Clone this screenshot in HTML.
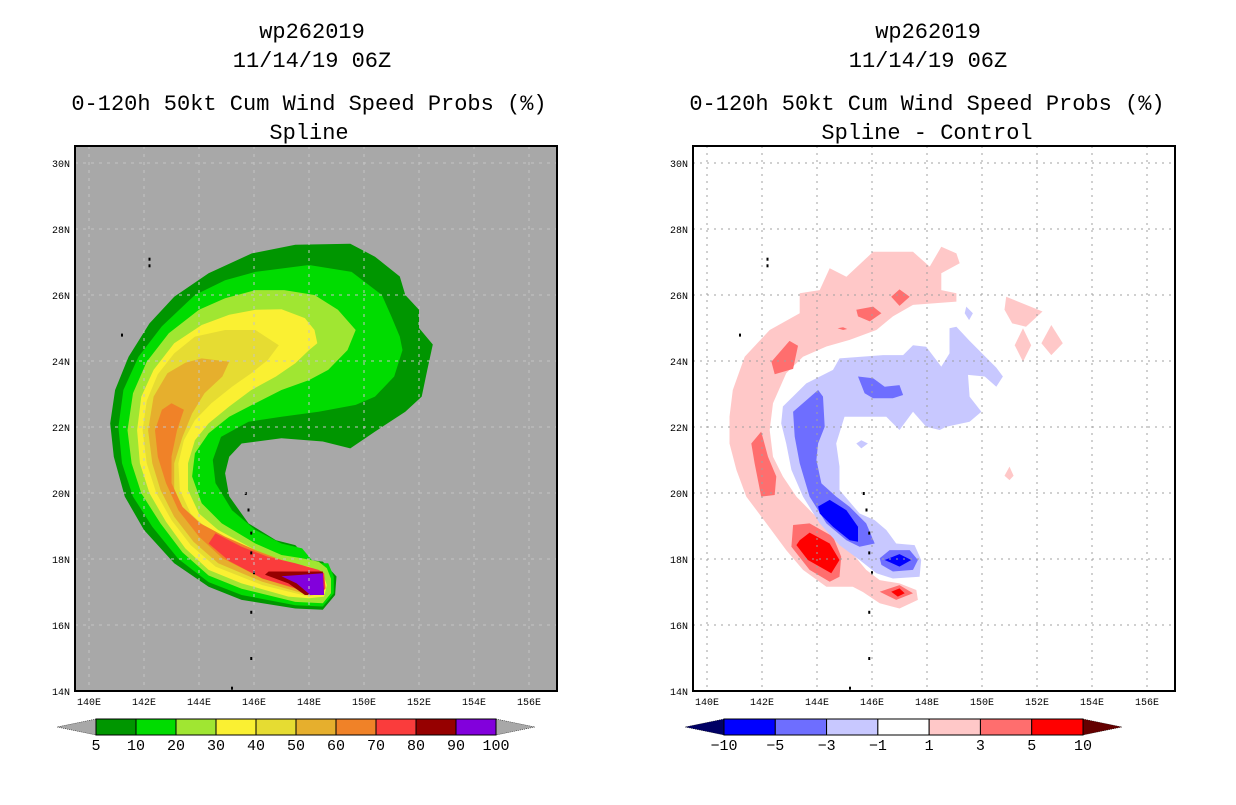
<!DOCTYPE html>
<html><head><meta charset="utf-8">
<style>
html,body{margin:0;padding:0;background:#fff;}
body{width:1236px;height:800px;overflow:hidden;}
svg text{font-family:"Liberation Mono",monospace;}
</style></head>
<body>
<svg id="root" width="1236" height="800" viewBox="0 0 1236 800">
<defs>
<clipPath id="clipL"><rect x="75" y="146" width="482" height="545"/></clipPath>
<clipPath id="clipR"><rect x="693" y="146" width="482" height="545"/></clipPath>
</defs>
<g font-size="22" text-anchor="middle" fill="#000">
<text x="312" y="38">wp262019</text>
<text x="312" y="67">11/14/19 06Z</text>
<text x="309" y="110">0-120h 50kt Cum Wind Speed Probs (%)</text>
<text x="309" y="139">Spline</text>
</g>
<g font-size="22" text-anchor="middle" fill="#000">
<text x="928" y="38">wp262019</text>
<text x="928" y="67">11/14/19 06Z</text>
<text x="927" y="110">0-120h 50kt Cum Wind Speed Probs (%)</text>
<text x="927" y="139">Spline - Control</text>
</g>
<rect x="75" y="146" width="482" height="545" fill="#a8a8a8"/>
<rect x="693" y="146" width="482" height="545" fill="#fff"/>
<g id="fillL" clip-path="url(#clipL)"></g>
<g id="fillR" clip-path="url(#clipR)"></g>
<g id="gridL" clip-path="url(#clipL)"></g>
<g id="gridR" clip-path="url(#clipR)"></g>
<g id="axesL"></g>
<g id="axesR"></g>
<rect x="75" y="146" width="482" height="545" fill="none" stroke="#000" stroke-width="2"/>
<rect x="693" y="146" width="482" height="545" fill="none" stroke="#000" stroke-width="2"/>
<g id="cbL"></g>
<g id="cbR"></g>
</svg>
<script>
const lonTicks = [140,142,144,146,148,150,152,154,156];
const latTicks = [14,16,18,20,22,24,26,28,30];

const p5 = [[145.92,27.26],[147.5,27.52],[149.5,27.55],[150.4,27.16],[151.3,26.56],[151.5,26.0],[152.0,25.55],[152.0,25.0],[152.5,24.5],[152.3,23.73],[152.1,22.92],[151.5,22.46],[150.4,21.86],[149.5,21.35],[148.5,21.56],[147.0,21.66],[145.55,21.5],[145.1,21.1],[144.95,20.6],[145.1,19.9],[145.8,19.08],[146.8,18.57],[147.5,18.42],[148.0,17.97],[148.5,17.92],[149.0,17.47],[148.95,16.91],[148.5,16.46],[147.5,16.5],[145.55,16.76],[144.35,17.16],[143.1,17.87],[142.0,18.88],[141.3,19.89],[140.9,21.1],[140.77,22.11],[140.95,23.12],[141.44,24.13],[142.2,25.14],[143.1,25.95],[144.35,26.66]];
const p10 = [[146.05,26.7],[148.0,26.91],[149.55,26.7],[150.65,26.0],[151.0,25.34],[151.3,24.74],[151.4,24.33],[151.1,23.53],[150.4,22.92],[149.7,22.67],[148.35,22.46],[147.0,22.31],[145.8,22.16],[144.8,21.7],[144.5,21.0],[144.6,20.3],[145.2,19.48],[146.05,18.88],[147.0,18.47],[147.75,18.32],[148.2,17.87],[148.7,17.87],[148.9,17.47],[148.9,16.96],[148.5,16.56],[147.5,16.6],[145.55,16.91],[144.35,17.3],[143.25,18.0],[142.3,18.98],[141.6,19.89],[141.2,20.9],[141.07,22.0],[141.25,23.12],[141.8,24.13],[142.65,25.05],[143.85,26.0],[144.95,26.45]];
const p20 = [[146.05,26.15],[147.1,26.15],[148.2,26.0],[149.05,25.55],[149.7,24.94],[149.4,24.33],[148.7,23.73],[148.0,23.42],[147.0,23.12],[146.05,22.72],[145.1,22.31],[144.35,21.81],[143.85,21.2],[143.75,20.5],[144.1,19.69],[144.83,19.08],[146.05,18.47],[147.0,18.12],[147.75,18.02],[148.35,17.92],[148.65,17.72],[148.8,17.4],[148.8,16.96],[148.5,16.66],[147.5,16.7],[145.55,17.1],[144.35,17.5],[143.4,18.2],[142.6,19.08],[141.9,19.99],[141.55,20.9],[141.4,21.9],[141.6,23.02],[142.1,23.98],[142.9,24.84],[144.0,25.55],[144.95,25.9]];
const p30 = [[146.05,25.55],[147.0,25.57],[147.85,25.3],[148.2,24.94],[148.3,24.54],[148.0,24.33],[147.5,23.93],[146.8,23.53],[145.9,23.12],[145.1,22.62],[144.35,22.11],[143.85,21.6],[143.6,20.9],[143.6,20.09],[144.0,19.38],[144.7,18.88],[146.05,18.27],[147.25,17.87],[148.0,17.77],[148.5,17.57],[148.65,17.21],[148.55,16.86],[148.0,16.81],[147.25,16.86],[145.55,17.26],[144.35,17.67],[143.5,18.32],[142.8,19.13],[142.2,19.99],[141.85,20.9],[141.75,21.9],[141.9,22.92],[142.35,23.73],[143.1,24.54],[144.1,25.09],[145.1,25.4]];
const p40 = [[143.85,24.74],[144.95,24.94],[146.05,24.94],[146.9,24.48],[146.5,24.03],[145.9,23.63],[145.2,23.22],[144.45,22.72],[143.85,22.21],[143.45,21.6],[143.25,20.9],[143.3,20.09],[143.7,19.38],[144.35,18.88],[145.3,18.47],[146.3,18.17],[147.0,17.97],[148.0,17.72],[148.5,17.47],[148.55,17.01],[148.0,16.86],[146.3,17.21],[144.6,17.77],[143.7,18.42],[143.0,19.18],[142.45,19.99],[142.1,20.9],[141.95,21.9],[142.1,22.79],[142.5,23.6],[143.1,24.23]];
const p50 = [[144.1,24.08],[145.1,23.98],[144.85,23.53],[144.2,23.02],[143.75,22.41],[143.4,21.7],[143.1,20.9],[143.1,20.09],[143.5,19.38],[144.2,18.88],[145.2,18.47],[146.3,18.12],[147.25,17.87],[148.0,17.67],[148.5,17.41],[148.5,17.01],[148.0,16.91],[146.3,17.31],[144.7,17.87],[143.8,18.52],[143.1,19.28],[142.6,20.09],[142.3,20.9],[142.15,21.9],[142.35,22.92],[142.85,23.63],[143.5,23.95]];
const p60 = [[143.0,22.72],[143.45,22.52],[143.2,21.9],[143.0,21.1],[143.0,20.3],[143.4,19.58],[144.05,19.08],[144.95,18.68],[146.05,18.27],[147.0,17.97],[147.85,17.67],[148.35,17.36],[148.35,17.06],[147.85,17.01],[146.3,17.41],[144.85,18.02],[144.0,18.68],[143.25,19.48],[142.8,20.3],[142.5,21.1],[142.4,21.9],[142.65,22.52]];
const p70 = [[144.35,18.47],[144.6,18.78],[145.55,18.37],[146.5,18.07],[147.5,17.87],[148.35,17.67],[148.55,17.57],[148.6,17.11],[148.45,16.96],[147.75,17.06],[146.3,17.41],[145.1,17.94]];
const p80 = [[146.4,17.52],[146.53,17.62],[148.5,17.62],[148.55,16.91],[147.85,16.91],[147.25,17.26]];
const p90 = [[147.0,17.48],[148.5,17.57],[148.55,16.91],[148.05,16.91],[147.55,17.26]];

const dPink = [[140.82,22.31],[140.94,23.12],[141.37,24.13],[142.28,24.94],[143.37,25.45],[143.37,26.05],[144.1,26.15],[144.46,26.81],[145.07,26.55],[146.04,27.31],[147.49,27.31],[148.1,26.86],[148.52,27.46],[149.07,27.26],[149.19,26.96],[148.52,26.66],[148.52,26.15],[149.07,26.05],[149.07,25.8],[147.49,25.7],[146.76,25.35],[146.16,24.94],[145.19,24.64],[144.34,24.44],[143.49,24.13],[142.88,23.63],[142.4,22.72],[142.28,21.91],[142.4,21.1],[142.76,20.5],[143.25,19.89],[143.85,19.38],[144.58,18.85],[145.19,18.27],[145.79,17.67],[146.28,17.36],[147.0,17.26],[147.61,17.06],[147.67,16.76],[147.0,16.5],[146.28,16.66],[145.67,17.0],[145.3,17.16],[144.34,17.16],[143.49,17.67],[142.88,18.27],[142.16,19.08],[141.43,19.89],[141.07,20.7],[140.82,21.5]];
const dPink2 = [[150.88,25.95],[152.2,25.5],[151.6,25.04],[151.1,25.14],[150.82,25.55]];
const dPink3 = [[151.49,24.99],[151.79,24.48],[151.49,23.98],[151.19,24.48]];
const dPink4 = [[152.52,25.09],[152.94,24.54],[152.52,24.18],[152.16,24.54]];
const dPink5 = [[151.0,20.8],[151.15,20.52],[151.0,20.39],[150.82,20.52]];
const dRedA = [[143.0,24.61],[143.31,24.46],[143.13,23.76],[142.46,23.6],[142.34,23.98]];
const dRedB = [[146.7,25.95],[147.0,26.17],[147.37,25.95],[147.0,25.67]];
const dRedC = [[145.43,25.55],[146.04,25.65],[146.34,25.45],[145.92,25.2],[145.49,25.35]];
const dRedD = [[144.75,24.99],[144.95,25.02],[145.1,24.97],[144.95,24.94]];
const dRedE = [[141.97,21.86],[142.22,21.1],[142.52,20.5],[142.46,19.94],[141.97,19.89],[141.73,20.9],[141.61,21.5]];
const dRedF = [[143.13,19.03],[143.73,19.08],[144.58,18.68],[144.88,18.07],[144.82,17.46],[144.46,17.31],[143.73,17.67],[143.07,18.37]];
const dRedG = [[146.28,17.01],[147.0,17.21],[147.49,16.96],[146.88,16.76]];
const dRedH = [[143.37,18.57],[143.73,18.8],[144.46,18.47],[144.82,17.97],[144.52,17.57],[143.67,17.97],[143.25,18.42]];
const dRedI = [[146.7,17.01],[147.0,17.11],[147.19,16.96],[146.94,16.86]];
const dBlueL = [[142.76,22.62],[143.61,23.32],[144.58,23.73],[144.82,24.08],[146.4,24.18],[147.13,24.18],[147.49,24.48],[147.97,24.43],[148.52,23.83],[148.82,24.23],[148.82,24.99],[149.07,25.04],[149.55,24.61],[150.16,24.1],[150.52,23.8],[150.76,23.53],[150.52,23.22],[150.1,23.53],[149.49,23.58],[149.55,22.92],[149.98,22.46],[149.55,22.16],[148.7,22.01],[148.46,21.91],[147.97,22.01],[147.49,22.46],[147.0,21.91],[146.52,22.31],[145.0,22.31],[144.7,21.5],[144.82,20.8],[144.82,20.09],[145.55,19.38],[146.1,19.18],[146.52,18.88],[146.88,18.47],[147.55,18.42],[147.79,17.97],[147.73,17.46],[146.76,17.41],[146.16,17.57],[145.55,17.97],[144.82,18.42],[144.1,19.08],[143.49,19.89],[143.07,20.7],[142.88,21.5],[142.7,22.11]];
const dBlueL2 = [[149.43,25.65],[149.67,25.45],[149.53,25.24],[149.37,25.45]];
const dBlueL3 = [[145.43,21.5],[145.61,21.6],[145.85,21.5],[145.61,21.35]];
const dBlueJ = [[143.13,22.46],[144.04,23.12],[144.22,22.92],[144.28,22.01],[144.04,21.5],[143.98,21.0],[144.16,20.29],[144.7,19.89],[145.19,19.58],[145.79,19.08],[146.1,18.47],[145.55,18.37],[145.07,18.57],[144.34,19.08],[143.73,19.89],[143.37,20.9],[143.19,21.71]];
const dBlueK = [[145.49,23.53],[146.04,23.48],[146.46,23.22],[147.0,23.27],[147.13,22.97],[146.76,22.87],[146.04,22.87],[145.73,23.02]];
const dBlueM2 = [[146.28,18.02],[146.64,18.27],[147.37,18.27],[147.67,17.97],[147.49,17.67],[146.76,17.62],[146.34,17.82]];
const dBlueD1 = [[144.04,19.59],[144.46,19.79],[145.07,19.48],[145.49,18.98],[145.49,18.52],[145.19,18.57],[144.58,18.98],[144.1,19.38]];
const dBlueD2 = [[146.46,17.97],[147.0,18.15],[147.43,17.97],[147.0,17.77]];

const cbLeftLabels = ['5','10','20','30','40','50','60','70','80','90','100'];
const cbRightLabels = ['\u221210','\u22125','\u22123','\u22121','1','3','5','10'];

const NS='http://www.w3.org/2000/svg';
function xS(lon,off){return off+89+(lon-140)*27.5;}
function yS(lat){return 691-(lat-14)*33;}
function mk(tag,attrs,parent){const e=document.createElementNS(NS,tag);for(const k in attrs)e.setAttribute(k,attrs[k]);parent.appendChild(e);return e;}
function poly(parent,pts,off,fill,name){
  const d=pts.map(p=>xS(p[0],off).toFixed(1)+','+yS(p[1]).toFixed(1)).join(' ');
  const e=mk('polygon',{points:d,fill:fill},parent);
  
  
}
const fL=document.getElementById('fillL');
const leftLevels=[[p5,'#009600','contour-5'],[p10,'#00dc00','contour-10'],[p20,'#a0e632','contour-20'],[p30,'#faf032','contour-30'],[p40,'#e6dc32','contour-40'],[p50,'#e6af2d','contour-50'],[p60,'#f08228','contour-60'],[p70,'#fa3c3c','contour-70'],[p80,'#960000','contour-80'],[p90,'#8200dc','contour-90']];
leftLevels.forEach(l=>poly(fL,l[0],0,l[1],l[2]));
const fR=document.getElementById('fillR');
const rightLevels=[[dPink,'#ffc8c8','diff-pos-1'],[dPink2,'#ffc8c8','diff-pos-1'],[dPink3,'#ffc8c8','diff-pos-1'],[dPink4,'#ffc8c8','diff-pos-1'],[dPink5,'#ffc8c8','diff-pos-1'],
[dRedA,'#ff6e6e','diff-pos-3'],[dRedB,'#ff6e6e','diff-pos-3'],[dRedC,'#ff6e6e','diff-pos-3'],[dRedD,'#ff6e6e','diff-pos-3'],[dRedE,'#ff6e6e','diff-pos-3'],[dRedF,'#ff6e6e','diff-pos-3'],[dRedG,'#ff6e6e','diff-pos-3'],
[dRedH,'#ff0000','diff-pos-5'],[dRedI,'#ff0000','diff-pos-5'],
[dBlueL,'#c8c8ff','diff-neg-1'],[dBlueL2,'#c8c8ff','diff-neg-1'],[dBlueL3,'#c8c8ff','diff-neg-1'],
[dBlueJ,'#6e6eff','diff-neg-3'],[dBlueK,'#6e6eff','diff-neg-3'],[dBlueM2,'#6e6eff','diff-neg-3'],
[dBlueD1,'#0000ff','diff-neg-5'],[dBlueD2,'#0000ff','diff-neg-5']];
rightLevels.forEach(l=>poly(fR,l[0],618,l[1],l[2]));

function grid(id,off,col,dash){
  const g=document.getElementById(id);
  lonTicks.forEach(v=>{const e=mk('line',{x1:xS(v,off),x2:xS(v,off),y1:146,y2:691,stroke:col,'stroke-width':1,'stroke-dasharray':dash},g);
    
    });
  latTicks.forEach(v=>{const e=mk('line',{x1:75+off,x2:557+off,y1:yS(v),y2:yS(v),stroke:col,'stroke-width':1,'stroke-dasharray':dash},g);
    
    });
}
grid('gridL',0,'#c4c4c4','3,5');
grid('gridR',618,'#a0a0a0','2,5');

function axes(id,off){
  const g=document.getElementById(id);
  lonTicks.forEach(v=>{const t=mk('text',{x:xS(v,off),y:705,'font-size':10,'text-anchor':'middle',fill:'#000'},g);t.textContent=v+'E';
    
    });
  latTicks.forEach(v=>{const t=mk('text',{x:70+off,y:yS(v)+4,'font-size':10,'text-anchor':'end',fill:'#000'},g);t.textContent=v+'N';
    
    });
}
axes('axesL',0);axes('axesR',618);

// coastline specks
[[142.2,27.1],[142.2,26.9],[141.2,24.8],[145.7,20.0],[145.8,19.5],[145.9,18.8],[145.9,18.2],[146.0,17.6],[145.9,16.4],[145.9,15.0],[145.2,14.1]].forEach(p=>{
  [0,618].forEach(off=>{const e=mk('rect',{x:xS(p[0],off)-1,y:yS(p[1])-1,width:2,height:3,fill:'#000'},off?fR:fL);
    
    });
});

function colorbar(id,x0,w,cols,labels,lt,rt,labelOffset){
  const g=document.getElementById(id);
  const y0=719,h=16,n=cols.length;
  let e=mk('polygon',{points:`${x0},${y0} ${x0-39},${y0+h/2} ${x0},${y0+h}`,fill:lt,stroke:'#000','stroke-width':0.5,'stroke-dasharray':'1,1'},g);
  
  
  e=mk('polygon',{points:`${x0+w},${y0} ${x0+w+39},${y0+h/2} ${x0+w},${y0+h}`,fill:rt,stroke:'#000','stroke-width':0.5,'stroke-dasharray':'1,1'},g);
  
  
  const sw=w/n;
  cols.forEach((c,i)=>{const r=mk('rect',{x:x0+i*sw,y:y0,width:sw,height:h,fill:c,stroke:'#000','stroke-width':1},g);
    
    });
  labels.forEach((l,i)=>{const t=mk('text',{x:x0+(i+labelOffset)*sw,y:750,'font-size':15,'text-anchor':'middle',fill:'#000'},g);t.textContent=l;
    
    });
}
colorbar('cbL',96,400,['#009600','#00dc00','#a0e632','#faf032','#e6dc32','#e6af2d','#f08228','#fa3c3c','#960000','#8200dc'],cbLeftLabels,'#a8a8a8','#a8a8a8',0);
colorbar('cbR',724,359,['#0000ff','#6e6eff','#c8c8ff','#ffffff','#ffc8c8','#ff6e6e','#ff0000'],cbRightLabels,'#000064','#640000',0);
</script>
</body></html>
